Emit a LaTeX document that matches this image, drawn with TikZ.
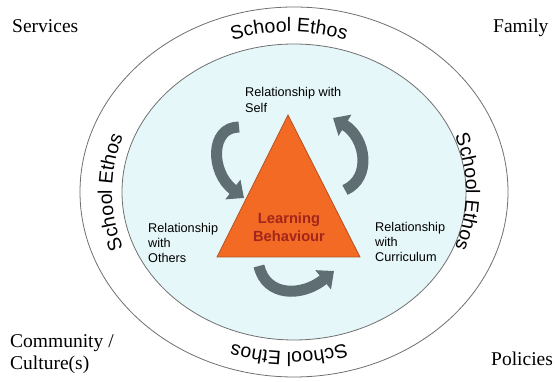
\documentclass[tikz,border=0pt]{standalone}
\usepackage{fontspec}
\setmainfont{Liberation Serif}
\setsansfont{Liberation Sans}
\usetikzlibrary{decorations.text,arrows.meta}
\definecolor{ringline}{HTML}{707070}
\definecolor{innerfill}{HTML}{E6F7F9}
\definecolor{trifill}{HTML}{F26A24}
\definecolor{triline}{HTML}{B5501E}
\definecolor{lbtext}{HTML}{A3261C}
\definecolor{arrowgray}{HTML}{5F6E72}
\begin{document}
\begin{tikzpicture}[x=1pt,y=-1pt,
  corner/.style={inner sep=0pt, font=\fontsize{19.5}{22}\selectfont},
  rel/.style={inner sep=0pt, font=\sffamily\fontsize{12.7}{15}\selectfont},
  lb/.style={inner sep=0pt, text=lbtext, font=\sffamily\bfseries\fontsize{14.7}{18}\selectfont},
  ethos/.style={decorate, decoration={text along path, text align=center,
     text={|\sffamily\fontsize{19.5}{19.5}\selectfont|School Ethos}}},
  cycarrow/.style={draw=arrowgray, line width=11pt, -{Triangle[width=24pt,length=14pt]}}
]
\useasboundingbox (0,0) rectangle (555,382);
\fill[white] (0,0) rectangle (555,382);
\coordinate (C) at (294,192);
\draw[ringline, fill=white, line width=0.8pt] (C) ellipse [x radius=214, y radius=185];
\draw[ringline, fill=innerfill, line width=0.8pt] (C) ellipse [x radius=172, y radius=148];
% ring texts (baseline ellipse centre (289,192), radii 177 x 160)
\path[ethos] (122.67,137.28) arc[start angle=200, end angle=340, x radius=177, y radius=160];
\path[ethos] (455.33,246.72) arc[start angle=20, end angle=160, x radius=177, y radius=160];
\path[ethos] (228.46,342.35) arc[start angle=110, end angle=250, x radius=177, y radius=160];
\path[ethos] (349.54,41.65) arc[start angle=-70, end angle=70, x radius=177, y radius=160];
% triangle
\draw[fill=trifill, draw=triline, line width=0.8pt] (288,115) -- (360,257) -- (217,257) -- cycle;
\node[lb, anchor=base] (lb1) at (289,224) {Learning};
\node[lb, anchor=base] (lb2) at (289,242) {Behaviour};
% arrows
\coordinate (a1s) at (239,127);
\coordinate (a1e) at (244,198);
\draw[cycarrow] (a1s) .. controls (210,127) and (210,172) .. (a1e);
\coordinate (a2s) at (345,190);
\coordinate (a2e) at (333,118);
\draw[cycarrow] (a2s) .. controls (372,178) and (366,138) .. (a2e);
\coordinate (a3s) at (259,266);
\coordinate (a3e) at (334,271);
\draw[cycarrow] (a3s) .. controls (266,297) and (302,297) .. (a3e);
% relationship labels
\node[rel, anchor=base west] (s1) at (245,97) {Relationship with};
\node[rel, anchor=base west] (s2) at (245,113) {Self};
\node[rel, anchor=base west] (o1) at (148,233) {Relationship};
\node[rel, anchor=base west] (o2) at (148,248) {with};
\node[rel, anchor=base west] (o3) at (148,263) {Others};
\node[rel, anchor=base west] (c1) at (375,232) {Relationship};
\node[rel, anchor=base west] (c2) at (375,247) {with};
\node[rel, anchor=base west] (c3) at (375,262) {Curriculum};
% corner labels
\node[corner, anchor=base west] (serv) at (12,33) {Services};
\node[corner, anchor=base west] (fam) at (493,33) {Family};
\node[corner, anchor=base west] (pol) at (491,366) {Policies};
\node[corner, anchor=base west] (com1) at (10,348) {Community /};
\node[corner, anchor=base west] (com2) at (10,370) {Culture(s)};
\end{tikzpicture}
\end{document}
